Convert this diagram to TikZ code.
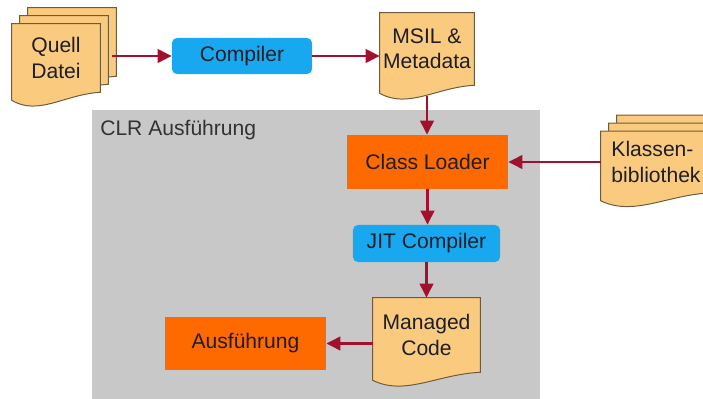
\documentclass[tikz,border=0pt]{standalone}
\usepackage{fontspec}
\setmainfont{Liberation Sans}
\usetikzlibrary{arrows.meta,backgrounds,calc}

\definecolor{flowred}{HTML}{A3102E}
\definecolor{pagefill}{HTML}{FACB7E}
\definecolor{pageline}{HTML}{6E5A3C}
\definecolor{clrgray}{HTML}{C8C8C8}
\definecolor{stageorange}{HTML}{FF6A00}
\definecolor{toolblue}{HTML}{18A8F0}
\definecolor{inktext}{HTML}{1E1E28}

\tikzset{
  flow/.style={flowred,line width=2.1pt,-{Triangle[length=10pt,width=9.5pt]}},
  page/.style={align=center,inner sep=0pt,text=inktext},
  tool/.style={fill=toolblue,rounded corners=3.5pt,text=inktext,
    minimum height=0.9cm},
  stage/.style={fill=stageorange,text=inktext,minimum width=4.025cm}
}

\begin{document}
\begin{tikzpicture}[x=0.025cm,y=-0.025cm,font=\fontsize{15}{18}\selectfont]
 \useasboundingbox (0,0) rectangle (703,399);

 % sheets (text only, outline drawn on the background layer)
 \node[page,minimum width=2.2cm,minimum height=1.7cm] (quell) at (56,58) {Quell\\Datei};
 \node[page,minimum width=2.35cm,minimum height=1.8cm] (msil) at (427,49) {MSIL \&\\Metadata};
 \node[page,align=left,minimum width=2.75cm,minimum height=1.525cm] (klassen) at (656,162) {Klassen-\\bibliothek};
 \node[page,minimum width=2.675cm,minimum height=1.85cm] (managed) at (426.5,335) {Managed\\Code};

 % tools and stages
 \node[tool,minimum width=3.5cm] (compiler) at (242,56) {Compiler};
 \node[stage,minimum height=1.35cm] (loader) at (427.5,162) {Class Loader};
 \node[tool,minimum width=3.675cm,minimum height=0.925cm] (jit) at (426.5,243.5) {JIT Compiler};
 \node[stage,minimum height=1.325cm] (ausf) at (245.5,343.5) {Ausführung};

 \node[anchor=west,inner sep=0pt,text=black!80] (clr) at (100,130) {CLR Ausführung};

 \begin{scope}[on background layer]
  \fill[clrgray] (92,110) rectangle (540,399);
  \foreach \d/\s in {quell/2,quell/1,quell/0,klassen/2,klassen/1,klassen/0,msil/0,managed/0}
   \draw[pageline,line width=0.7pt,fill=pagefill,transform canvas={shift={(\s*8,-\s*8)}}]
    (\d.north west) -- (\d.north east) -- (\d.south east)
    .. controls ($(\d.south west)!0.6!(\d.south east)+(0,-0.05cm)$)
       and ($(\d.south west)!0.3!(\d.south east)+(0,-0.6cm)$)
    .. ([yshift=-0.2cm]\d.south west) -- cycle;
 \end{scope}

 \draw[flow] ([xshift=0.3cm]quell.east |- compiler.west) -- (compiler.west);
 \draw[flow] (compiler.east) -- (compiler.east -| msil.west);
 \draw[flow] ([yshift=-0.28cm]msil.south) -- (msil.south |- loader.north);
 \draw[flow] (klassen.west) -- (klassen.west -| loader.east);
 \draw[flow] (loader.south) -- (loader.south |- jit.north);
 \draw[flow] (jit.south) -- (jit.south |- managed.north);
 \draw[flow] (managed.west |- ausf.east) -- (ausf.east);
\end{tikzpicture}
\end{document}
